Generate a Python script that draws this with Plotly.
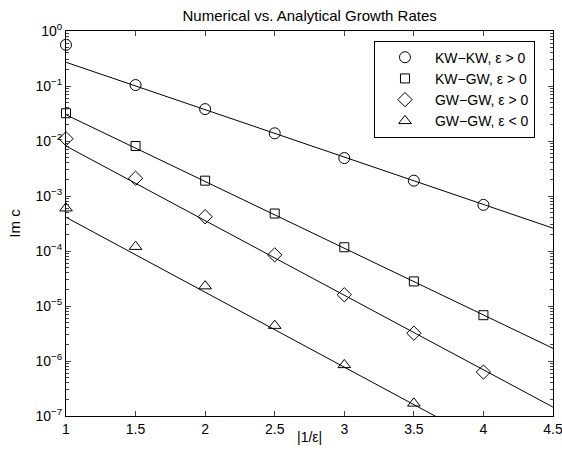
import plotly.graph_objects as go

# Data
x_pts = [1, 1.5, 2, 2.5, 3, 3.5, 4]
kwkw = [0.56, 0.104, 0.038, 0.0138, 0.0049, 0.0019, 0.00069]
kwgw = [0.032, 0.0081, 0.0019, 0.00048, 0.000117, 0.000028, 0.0000068]
gwgw_pos = [0.011, 0.0021, 0.00042, 0.000085, 0.000016, 0.0000032, 0.00000063]
gwgw_neg = [0.0006, 0.00012, 0.000023, 0.0000044, 0.00000085, 0.00000017]

# analytical lines: endpoints at |1/eps| = 1 and 4.5
x_line = [1, 4.5]
kwkw_line = [0.27, 0.00026]
kwgw_line = [0.030, 0.0000017]
gwgw_pos_line = [0.0081, 0.000000145]
gwgw_neg_line = [0.00041, 0.000000007]

names = ["KW\u2212KW, \u03b5 > 0", "KW\u2212GW, \u03b5 > 0", "GW\u2212GW, \u03b5 > 0", "GW\u2212GW, \u03b5 < 0"]
symbols = ["circle-open", "square-open", "diamond-open", "triangle-up-open"]
sizes = [11, 9, 11, 11]

y_major = [1e-7, 1e-6, 1e-5, 1e-4, 1e-3, 1e-2, 1e-1, 1]
y_major_text = ["10<sup>\u22127</sup>", "10<sup>\u22126</sup>", "10<sup>\u22125</sup>", "10<sup>\u22124</sup>",
                "10<sup>\u22123</sup>", "10<sup>\u22122</sup>", "10<sup>\u22121</sup>", "10<sup>0</sup>"]
x_ticks = [1, 1.5, 2, 2.5, 3, 3.5, 4, 4.5]
x_tick_text = ["1", "1.5", "2", "2.5", "3", "3.5", "4", "4.5"]

font = "Liberation Sans, Arial, Helvetica, sans-serif"
fs = 14

fig = go.Figure()
for yl in [kwkw_line, kwgw_line, gwgw_pos_line, gwgw_neg_line]:
    fig.add_trace(go.Scatter(x=x_line, y=yl, mode="lines", line=dict(color="black", width=1),
                             showlegend=False, hoverinfo="skip"))
for ys, nm, sym, sz in zip([kwkw, kwgw, gwgw_pos, gwgw_neg], names, symbols, sizes):
    fig.add_trace(go.Scatter(x=x_pts[:len(ys)], y=ys, mode="markers", name=nm,
                             marker=dict(symbol=sym, size=sz, color="black", line=dict(width=1, color="black")),
                             cliponaxis=False))

minor_vals = []
for d in range(-7, 0):
    for m in range(2, 10):
        minor_vals.append(m * 10.0 ** d)

fig.update_layout(
    width=562, height=454,
    margin=dict(l=66, r=9, t=31, b=38, autoexpand=False),
    paper_bgcolor="white", plot_bgcolor="white",
    font=dict(family=font, size=fs, color="black"),
    title=dict(text="Numerical vs. Analytical Growth Rates", x=0.551, xanchor="center",
               y=0.965, yanchor="middle", font=dict(size=15), automargin=False),
    showlegend=True,
    legend=dict(x=0.963, y=0.975, xanchor="right", yanchor="top",
                bordercolor="black", borderwidth=1, bgcolor="white",
                font=dict(size=14), itemsizing="trace", itemwidth=50, tracegroupgap=0),
    xaxis=dict(range=[1, 4.5], tickvals=x_ticks, ticktext=x_tick_text, ticks="inside", ticklen=5,
               showline=True, linecolor="black", linewidth=1, mirror="ticks", showgrid=False,
               zeroline=False, tickfont=dict(size=fs), ticklabeloverflow="allow", automargin=False),
    yaxis=dict(type="log", range=[-7, 0], tickvals=y_major, ticktext=y_major_text, ticks="inside",
               ticklen=5, showline=True, linecolor="black", linewidth=1, mirror="ticks", showgrid=False,
               zeroline=False, title=dict(text="Im c", standoff=11, font=dict(size=15)),
               tickfont=dict(size=fs), automargin=False),
    yaxis2=dict(type="log", range=[-7, 0], overlaying="y", tickvals=minor_vals, ticks="inside",
                ticklen=3, showticklabels=False, showline=False, mirror="ticks", showgrid=False,
                zeroline=False, side="left", anchor="x", automargin=False),
    annotations=[dict(text="|1/\u03b5|", xref="paper", yref="paper", x=0.5, y=-0.055,
                      xanchor="center", yanchor="middle", showarrow=False, font=dict(size=fs))],
)
fig.add_trace(go.Scatter(x=[None], y=[None], yaxis="y2", showlegend=False, hoverinfo="skip"))

fig.write_html("out.html", config={"displayModeBar": False},
               post_script="document.body.style.margin='0';")
